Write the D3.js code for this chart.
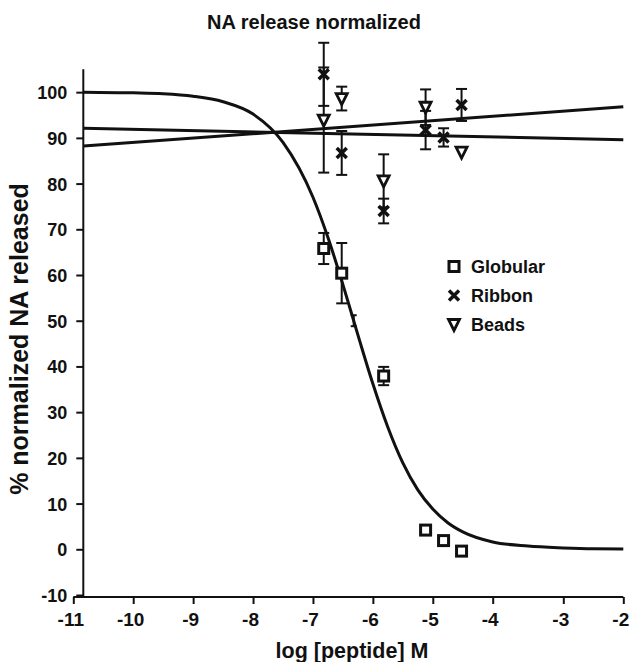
<!DOCTYPE html>
<html>
<head>
<meta charset="utf-8">
<script src="https://cdn.jsdelivr.net/npm/d3@7"></script>
<style>
  body { margin: 0; background: #fff; }
  text { font-family: "Liberation Sans", Arial, sans-serif; font-weight: bold; fill: #111; }
</style>
</head>
<body>
<div id="chart"></div>
<script>
// tick labels
const xTicks = [-11, -10, -9, -8, -7, -6, -5, -4, -3, -2];
const yTicks = [-10, 0, 10, 20, 30, 40, 50, 60, 70, 80, 90, 100];

// log concentrations of the measured points
const logConc = [-6.82, -6.52, -5.82, -5.12, -4.82, -4.52];

// series values (% normalized NA released) and error bars
const globular    = [65.8, 60.4, 37.9, 4.2, 1.9, -0.4];
const globularErr = [3.4, 6.6, 2.0, 0, 0, 0];
const ribbon      = [103.9, 86.7, 74.0, 91.7, 90.1, 97.2];
const ribbonErr   = [6.9, 4.8, 2.7, 4.2, 2.0, 3.5];
const beads       = [93.9, 98.6, 80.6, 96.7, null, 86.9];
const beadsErr    = [11.5, 2.6, 5.8, 3.9, 0, 0];

// small stray error bar sitting on the curve
const strayX = [-6.32];
const strayY = [50];
const strayErr = [1.2];

// fitted sigmoid
const fitX = [-10.83, -10, -9.5, -9, -8.5, -8, -7.5, -7, -6.75, -6.5, -6.25, -6, -5.75, -5.5, -5.25, -5, -4.75, -4.5, -4, -3.5, -3, -2.5, -2];
const fitY = [100, 99.85, 99.65, 99.1, 97.9, 95.2, 89.0, 77.0, 68.2, 57.9, 46.9, 36.2, 26.7, 18.9, 13.0, 8.8, 5.8, 3.8, 1.6, 0.7, 0.3, 0.1, 0.05];

// the two straight trend lines
const lineDownX = [-10.83, -2];
const lineDownY = [92.1, 89.6];
const lineUpX = [-10.83, -2];
const lineUpY = [88.2, 96.8];

const width = 630, height = 662;

const svg = d3.select("#chart").append("svg")
    .attr("width", width)
    .attr("height", height);

// the x axis of the original is a bit stretched between -4 and -3
const x = d3.scaleLinear()
    .domain([-11, -4, -3, -2])
    .range([73.3, 492.7, 563.3, 623.3]);

const y = d3.scaleLinear()
    .domain([-10, 105])
    .range([595, 69.3]);

const yAxisX = x(-10.833);

// title
svg.append("text")
    .attr("x", 314).attr("y", 29)
    .attr("text-anchor", "middle")
    .style("font-size", "20px")
    .text("NA release normalized");

// x axis
const xAxis = svg.append("g")
    .attr("transform", `translate(0,${y(-10) + 2})`)
    .call(d3.axisBottom(x).tickValues(xTicks).tickSize(7).tickPadding(9).tickFormat(d => String(d)));
xAxis.select(".domain").attr("d", `M${x(-11)},0H${x(-2)}`);

// y axis
const yAxis = svg.append("g")
    .attr("transform", `translate(${yAxisX},0)`)
    .call(d3.axisLeft(y).tickValues(yTicks).tickSize(7).tickPadding(9).tickFormat(d => String(d)));
yAxis.select(".domain").attr("d", `M0,${y(-10) + 1}V${y(105)}`);

svg.selectAll(".domain").attr("stroke", "#111").attr("stroke-width", 2);
svg.selectAll(".tick line").attr("stroke", "#111").attr("stroke-width", 2);
xAxis.selectAll(".tick text").style("font-size", "19px").attr("fill", "#111").attr("dx", -3);
yAxis.selectAll(".tick text").style("font-size", "18px").attr("fill", "#111").attr("dy", "0.36em");

// axis titles
svg.append("text")
    .attr("x", 352).attr("y", 658)
    .attr("text-anchor", "middle")
    .style("font-size", "21.5px")
    .text("log [peptide] M");

svg.append("text")
    .attr("transform", `translate(28,339) rotate(-90)`)
    .attr("text-anchor", "middle")
    .style("font-size", "25px")
    .text("% normalized NA released");

// curves
const line = d3.line().x(d => x(d[0])).y(d => y(d[1]));
const curveG = svg.append("g").attr("fill", "none").attr("stroke", "#111").attr("stroke-width", 3);

curveG.append("path")
    .attr("d", line.curve(d3.curveMonotoneX)(fitX.map((v, i) => [v, fitY[i]])));
curveG.append("path")
    .attr("d", d3.line().x(d => x(d[0])).y(d => y(d[1]))(lineDownX.map((v, i) => [v, lineDownY[i]])));
curveG.append("path")
    .attr("d", d3.line().x(d => x(d[0])).y(d => y(d[1]))(lineUpX.map((v, i) => [v, lineUpY[i]])));

// error bars
function errorBars(xv, yv, ev, capW) {
    const data = xv.map((v, i) => ({ x: v, y: yv[i], e: ev[i] }))
        .filter(d => d.y != null && d.e > 0);
    const g = svg.append("g").attr("stroke", "#111").attr("stroke-width", 2);
    data.forEach(d => {
        const cx = x(d.x), top = y(d.y + d.e), bot = y(d.y - d.e);
        g.append("line").attr("x1", cx).attr("x2", cx).attr("y1", top).attr("y2", bot);
        g.append("line").attr("x1", cx - capW).attr("x2", cx + capW).attr("y1", top).attr("y2", top);
        g.append("line").attr("x1", cx - capW).attr("x2", cx + capW).attr("y1", bot).attr("y2", bot);
    });
}

errorBars(logConc, globular, globularErr, 5.5);
errorBars(logConc, ribbon, ribbonErr, 5.5);
errorBars(logConc, beads, beadsErr, 5.5);
errorBars(strayX, strayY, strayErr, 3);

// markers
function drawSquare(g, cx, cy) {
    g.append("rect").attr("x", cx - 5).attr("y", cy - 5).attr("width", 10).attr("height", 10)
        .attr("fill", "#fff").attr("stroke", "#111").attr("stroke-width", 3);
}
function drawCross(g, cx, cy) {
    g.append("path").attr("d", `M${cx - 5},${cy - 5}L${cx + 5},${cy + 5}M${cx - 5},${cy + 5}L${cx + 5},${cy - 5}`)
        .attr("stroke", "#111").attr("stroke-width", 3.5).attr("fill", "none");
}
function drawTriangle(g, cx, cy) {
    g.append("path").attr("d", `M${cx - 5.5},${cy - 5}L${cx + 5.5},${cy - 5}L${cx},${cy + 6}Z`)
        .attr("fill", "#fff").attr("stroke", "#111").attr("stroke-width", 2.8).attr("stroke-linejoin", "miter");
}

const markG = svg.append("g");
logConc.forEach((v, i) => {
    if (beads[i] != null) drawTriangle(markG, x(v), y(beads[i]));
});
logConc.forEach((v, i) => {
    drawCross(markG, x(v), y(ribbon[i]));
});
logConc.forEach((v, i) => {
    drawSquare(markG, x(v), y(globular[i]));
});

// legend
const legendItems = [
    { name: "Globular", draw: drawSquare },
    { name: "Ribbon", draw: drawCross },
    { name: "Beads", draw: drawTriangle }
];
const legend = svg.append("g");
legendItems.forEach((d, i) => {
    const ly = 266.5 + i * 29;
    d.draw(legend, 454, ly);
    legend.append("text")
        .attr("x", 471).attr("y", ly + 6.5)
        .style("font-size", "18px")
        .text(d.name);
});
</script>
</body>
</html>
